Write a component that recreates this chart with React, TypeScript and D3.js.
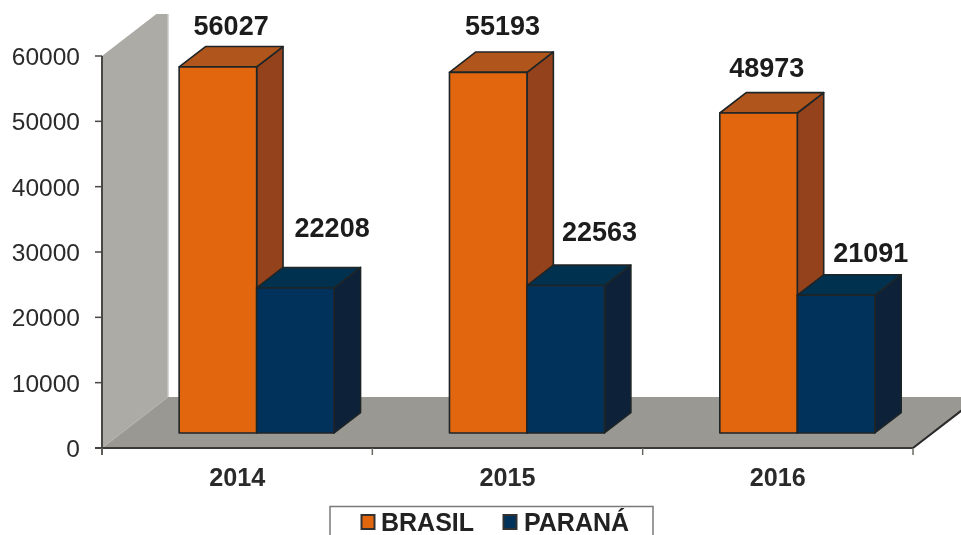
import React from 'react';
import * as d3 from 'd3';

const years = ['2014', '2015', '2016'];
const brasil = [56027, 55193, 48973];
const parana = [22208, 22563, 21091];
const yTicks = [0, 10000, 20000, 30000, 40000, 50000, 60000];
const legendNames = ['BRASIL', 'PARANÁ'];

// hand placed labels in the original, offset from the default spot above each bar
const brasilNudge = [[0, 0], [1, -5], [-5, -4]];
const paranaNudge = [[0, 0], [-3, 6], [-2, 17]];

const W = 961;
const H = 535;
const x0 = 102;
const x1 = 913;
const y0 = 448;
const y60 = 56;
const depthX = 66;
const depthY = 51;
const barWidth = 77.5;
const barFront = 0.295; // how far into the floor the bar front sits
const barDepth = 0.4;

const xScale = d3.scaleBand<string>().domain(years).range([x0, x1]);
const yScale = d3.scaleLinear().domain([0, 60000]).range([y0, y60]);

const poly = (pts: number[][]) => {
  const line = d3.line();
  return line(pts as [number, number][]) + 'Z';
};

const ink = '#2b2b2b';

function Bar({ left, value, face, side, top }: { left: number; value: number; face: string; side: string; top: string }) {
  const dy0 = depthY * barFront;
  const bottom = y0 - dy0;
  const h = y0 - yScale(value);
  const t = bottom - h;
  const dx = depthX * barDepth;
  const dy = depthY * barDepth;
  const right = left + barWidth;
  return (
    <g stroke="#1f2528" strokeWidth={1.6} strokeLinejoin="round">
      <path d={poly([[right, t], [right + dx, t - dy], [right + dx, bottom - dy], [right, bottom]])} fill={side} />
      <path d={poly([[left, t], [left + dx, t - dy], [right + dx, t - dy], [right, t]])} fill={top} />
      <rect x={left} y={t} width={barWidth} height={h} fill={face} />
    </g>
  );
}

export default function App() {
  const band = xScale.bandwidth();
  const dx0 = depthX * barFront;
  const barLeft = (y: string) => (xScale(y) as number) + band / 2 + dx0 - barWidth;
  const labelY = (v: number) => yScale(v) - depthY * barFront - depthY * barDepth;

  return (
    <svg width={W} height={H} style={{ position: 'absolute', left: 0, top: 0, background: '#fff' }}>
      <defs>
        <clipPath id="plotClip">
          <rect x={0} y={14} width={W} height={H - 14} />
        </clipPath>
        <filter id="soft" x="-2%" y="-2%" width="104%" height="104%">
          <feGaussianBlur stdDeviation={0.55} />
        </filter>
      </defs>
      <g filter="url(#soft)" fontFamily="'Liberation Sans', Arial, sans-serif" fill={ink}>
        <g clipPath="url(#plotClip)">
          <path d={poly([[x0, y60], [x0 + depthX, y60 - depthY], [x0 + depthX, y0 - depthY], [x0, y0]])} fill="#acaba5" />
          <line x1={x0 + depthX} x2={x0 + depthX} y1={y60 - depthY} y2={y0 - depthY} stroke="#c9c8c4" strokeWidth={1.5} />
        </g>
        <path d={poly([[x0, y0], [x0 + depthX, y0 - depthY], [x1 + depthX, y0 - depthY], [x1, y0]])} fill="#9a9892" />
        <line x1={x0} y1={y0} x2={x0 + depthX} y2={y0 - depthY} stroke="#b4b3ae" strokeWidth={1} />
        <line x1={x1} y1={y0} x2={x1 + depthX} y2={y0 - depthY} stroke="#2a2a2a" strokeWidth={2} />

        {years.map((y, i) => (
          <g key={y}>
            <Bar left={barLeft(y)} value={brasil[i]} face="#e1660f" side="#94431a" top="#b0541a" />
            <Bar left={barLeft(y) + barWidth} value={parana[i]} face="#00325b" side="#0a2439" top="#04304f" />
          </g>
        ))}

        <line x1={x0} x2={x0} y1={y60} y2={y0 + 7} stroke="#4a4644" strokeWidth={2} />
        <line x1={x0 - 7} x2={x1} y1={y0} y2={y0} stroke="#3a3836" strokeWidth={2} />
        {yTicks.map(t => (
          <g key={t}>
            <line x1={x0 - 7} x2={x0} y1={yScale(t)} y2={yScale(t)} stroke="#4a4644" strokeWidth={1.5} />
            <text x={80} y={yScale(t) + 9} textAnchor="end" fontSize={24.5}>{t}</text>
          </g>
        ))}
        {[...years.map(y => xScale(y) as number), x1].map(px => (
          <line key={px} x1={px} x2={px} y1={y0} y2={y0 + 7} stroke="#6a6866" strokeWidth={1.5} />
        ))}
        {years.map(y => (
          <text key={y} x={(xScale(y) as number) + band / 2} y={486} textAnchor="middle" fontSize={25.2} fontWeight="bold">{y}</text>
        ))}

        {years.map((y, i) => (
          <g key={y} fontSize={27} fontWeight="bold" textAnchor="middle" fill="#1c1c1c">
            <text x={barLeft(y) + 52 + brasilNudge[i][0]} y={labelY(brasil[i]) - 12 + brasilNudge[i][1]}>{brasil[i]}</text>
            <text x={barLeft(y) + 153 + paranaNudge[i][0]} y={labelY(parana[i]) - 30 + paranaNudge[i][1]}>{parana[i]}</text>
          </g>
        ))}

        <rect x={330} y={506.5} width={323} height={40} fill="#fff" stroke="#7a7a7a" strokeWidth={1.5} />
        <rect x={361.5} y={515} width={13} height={14} fill="#e1660f" stroke="#333" strokeWidth={2} />
        <rect x={503.5} y={515} width={13} height={14} fill="#00325b" stroke="#333" strokeWidth={2} />
        <g fontSize={25} fontWeight="bold" fill="#222">
          <text x={381} y={531}>{legendNames[0]}</text>
          <text x={524} y={531}>{legendNames[1]}</text>
        </g>
      </g>
    </svg>
  );
}
